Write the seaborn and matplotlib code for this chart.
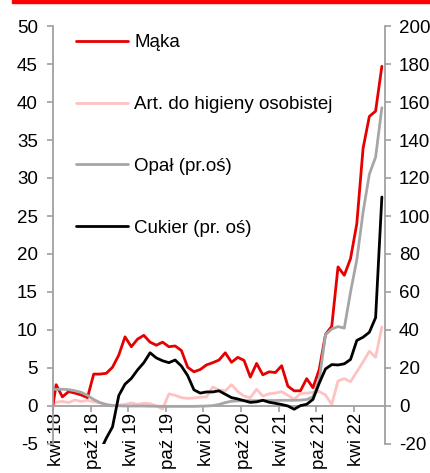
import numpy as np
import pandas as pd
import matplotlib
matplotlib.use("Agg")
import matplotlib.pyplot as plt
import seaborn as sns
from matplotlib.patches import Rectangle

# ---------------- data (monthly, Mar 2018 - Aug 2022) ----------------
months = pd.period_range("2018-03", "2022-08", freq="M")

# Mąka, % y/y (left axis)
maka = [-2.5,
        2.8, 1.2, 1.9, 1.7, 1.45, 1.1, 4.2, 4.2, 4.3, 5.1, 6.7, 9.1,
        7.8, 8.8, 9.3, 8.4, 8.0, 8.4, 7.8, 7.9, 7.3, 5.1, 4.5, 4.8,
        5.4, 5.7, 6.05, 7.0, 5.75, 6.4, 6.0, 3.8, 5.6, 4.1, 4.5, 4.4,
        5.3, 2.6, 2.0, 2.0, 3.6, 2.4, 4.8, 9.4, 10.5, 18.3, 17.2, 19.4,
        24.0, 33.9, 38.1, 38.8, 44.7]

# Art. do higieny osobistej, % y/y (left axis)
higiena = [-0.3,
           0.5, 0.6, 0.45, 0.8, 0.6, 0.75, 0.55, 0.4, 0.1, 0.0, 0.1, 0.2,
           0.4, 0.2, 0.35, 0.3, 0.0, -0.4, 1.6, 1.4, 1.1, 1.0, 1.05, 1.15,
           1.2, 2.5, 2.1, 2.0, 2.8, 1.9, 1.3, 1.1, 2.2, 1.3, 1.6, 1.7,
           1.9, 1.4, 0.9, 1.6, 1.7, 1.8, 1.9, 1.45, 0.2, 3.3, 3.6, 3.2,
           4.5, 5.8, 7.2, 6.4, 10.4]

# Opał, % y/y (right axis)
opal = [8.8,
        8.8, 8.8, 8.6, 8.0, 7.2, 5.6, 3.4, 1.8, 0.8, 0.3, 0.1, 0.0,
        0.0, 0.0, 0.0, -0.1, -0.1, -0.2, -0.2, -0.2, -0.2, -0.2, -0.2, -0.1,
        0.0, 0.2, 0.8, 1.8, 2.5, 2.7, 2.8, 2.8, 2.8, 2.9, 2.9, 2.9,
        3.0, 3.0, 3.0, 3.1, 3.4, 4.8, 13.5, 37.5, 40.5, 41.8, 41.0, 60.0,
        77.0, 102.0, 122.0, 131.0, 157.0]

# Cukier, % y/y (right axis)
cukier = [-38.0,
          -37.0, -36.0, -35.0, -34.0, -33.0, -31.0, -28.0, -24.0, -17.0, -11.0, 5.5, 11.5,
          14.5, 19.0, 22.8, 28.0, 25.3, 23.8, 22.8, 24.2, 21.0, 16.0, 8.5, 6.8,
          7.4, 7.4, 8.0, 6.2, 4.4, 3.7, 2.8, 1.9, 2.2, 3.0, 2.0, 1.4,
          0.8, 0.0, -1.7, 0.2, 0.9, 3.5, 12.0, 19.5, 21.8, 21.6, 22.2, 24.5,
          34.5, 36.2, 38.8, 46.5, 110.0]

tick_labels = ["kwi 18", "paź 18", "kwi 19", "paź 19", "kwi 20",
               "paź 20", "kwi 21", "paź 21", "kwi 22"]

# ---------------- style ----------------
sns.set_theme(style="white")
plt.rcParams["font.family"] = ["Liberation Sans", "DejaVu Sans"]
plt.rcParams["text.color"] = "black"
plt.rcParams["xtick.color"] = "black"
plt.rcParams["ytick.color"] = "black"
plt.rcParams["axes.unicode_minus"] = False

RED = "#E60000"
PINK = "#FFC2C2"
GRAY = "#A6A6A6"
BLACK = "#000000"
AXC = "#A0A0A0"
FS = 13.5

fig = plt.figure(figsize=(4.3, 4.73), dpi=100)
ax = fig.add_axes([53 / 430, 1 - 444 / 473, 332 / 430, 418 / 473])
ax2 = ax.twinx()

pos = np.arange(len(months)) - 0.5   # categories centred between tick marks
df = pd.DataFrame({"pos": pos, "maka": maka, "higiena": higiena,
                   "opal": opal, "cukier": cukier})

lw = 2.0
sns.lineplot(data=df, x="pos", y="higiena", ax=ax, color=PINK, lw=lw,
             label="Art. do higieny osobistej")
sns.lineplot(data=df, x="pos", y="maka", ax=ax, color=RED, lw=lw, label="Mąka")
sns.lineplot(data=df, x="pos", y="opal", ax=ax2, color=GRAY, lw=lw, label="Opał (pr.oś)")
sns.lineplot(data=df, x="pos", y="cukier", ax=ax2, color=BLACK, lw=lw,
             label="Cukier (pr. oś)")

ax.set_xlim(0, len(months) - 1)
ax.set_ylim(-5, 50)
ax2.set_ylim(-20, 200)
for a in (ax, ax2):
    a.set_xlabel("")
    a.set_ylabel("")
    if a.get_legend() is not None:
        a.get_legend().remove()

# spines
for s in ("top", "right"):
    ax.spines[s].set_visible(False)
ax.spines["left"].set_color(AXC)
ax.spines["bottom"].set_color(AXC)
ax.spines["bottom"].set_position(("data", 0))
ax.spines["left"].set_linewidth(1.3)
ax.spines["bottom"].set_linewidth(1.3)
for s in ("top", "left", "bottom"):
    ax2.spines[s].set_visible(False)
ax2.spines["right"].set_color(AXC)
ax2.spines["right"].set_linewidth(1.3)

# y ticks
ax.set_yticks(np.arange(-5, 51, 5))
ax2.set_yticks(np.arange(-20, 201, 20))
ax.tick_params(axis="y", direction="out", length=4, width=1.2, color=AXC,
               labelsize=FS, pad=7, left=True)
ax2.tick_params(axis="y", direction="out", length=4, width=1.2, color=AXC,
                labelsize=FS, pad=6, right=True)

# x ticks: marks at category boundaries, labels on categories
major = np.arange(0, len(months) - 1, 6)
ax.set_xticks(major)
ax.set_xticklabels([""] * len(major))
ax.set_xticks(major + 0.5, minor=True)
ax.set_xticklabels(tick_labels, minor=True, rotation=90)
ax.tick_params(axis="x", which="major", direction="out", length=4, width=1.2,
               color=AXC, bottom=True)
ax.tick_params(axis="x", which="minor", length=0, labelsize=FS, pad=5, bottom=True)

# legend
h1, l1 = ax.get_legend_handles_labels()
h2, l2 = ax2.get_legend_handles_labels()
hd = dict(zip(l1 + l2, h1 + h2))
order = ["Mąka", "Art. do higieny osobistej", "Opał (pr.oś)", "Cukier (pr. oś)"]
ax2.legend([hd[k] for k in order], order, loc="upper left",
           bbox_to_anchor=(0.069, 0.98), frameon=False, fontsize=FS,
           handlelength=2.8, handletextpad=0.3, labelspacing=2.38,
           borderpad=0, borderaxespad=0)

# red top bar
fig.patches.append(Rectangle((12 / 430, 1 - 3 / 473), 1 - 12 / 430, 3 / 473,
                             transform=fig.transFigure, color="#FF0000", zorder=5))

fig.savefig("out.png", dpi=100)
